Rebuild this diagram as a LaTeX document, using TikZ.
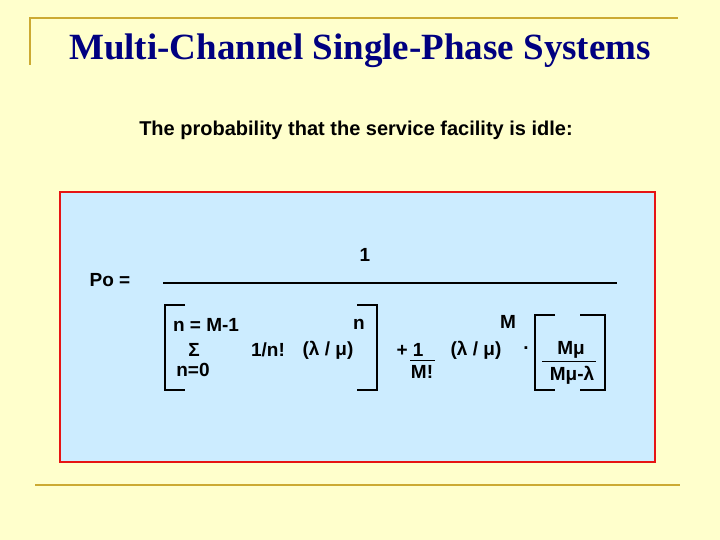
\documentclass[tikz,border=0pt]{standalone}
\usepackage{fontspec}
\setmainfont{Liberation Sans}
\newfontfamily\serifbf{Liberation Serif}
\definecolor{bgy}{RGB}{255,255,204}
\definecolor{gold}{RGB}{204,170,51}
\definecolor{navy}{RGB}{0,0,128}
\definecolor{boxbl}{RGB}{204,236,255}
\definecolor{redb}{RGB}{230,20,20}
\begin{document}
\begin{tikzpicture}[x=1pt,y=-1pt,
  t/.style={inner sep=0pt,font=\fontsize{19}{22}\selectfont\bfseries},
  br/.style={line width=1.6pt},
  fr/.style={line width=1pt}]
\fill[bgy] (0,0) rectangle (720,540);
\useasboundingbox (0,0) rectangle (720,540);
\draw[gold,line width=1.5pt] (30,65) -- (30,18) -- (678,18);
\draw[gold,line width=1.5pt] (35,485) -- (680,485);
\node (title)[text=navy,font=\fontsize{37}{40}\selectfont\serifbf\bfseries] at (360,51) {Multi-Channel Single-Phase Systems};
\node (sub)[font=\fontsize{20}{24}\selectfont\bfseries] at (356,130) {The probability that the service facility is idle:};
\draw[redb,line width=2pt,fill=boxbl] (60,192) rectangle (655,462);
\node (po)[t] at (110,280) {Po =};
\node (one)[t] at (365,255) {1};
\draw[line width=2.5pt] (163,283) -- (617,283);
\draw[br] (185,305) -- (165,305) -- (165,390) -- (185,390);
\draw[br] (357,305) -- (377,305) -- (377,390) -- (357,390);
\node (nm)[t] at (206,325) {n = M-1};
\node (sig)[t] at (194,350) {Σ};
\node (n0)[t] at (193,370) {n=0};
\node (inv)[t] at (268,350) {1/n!};
\node (lm1)[t] at (328,350) {(λ / μ)};
\node (ex1)[t] at (359,324) {n};
\node (p1)[t] at (410,350) {+ 1};
\draw[fr] (410,360) -- (435,360);
\node (mf)[t] at (422,372) {M!};
\node (lm2)[t] at (476,350) {(λ / μ)};
\node (ex2)[t] at (508,322) {M};
\node (dot)[t] at (526,348) {.};
\draw[br] (555,315) -- (535,315) -- (535,390) -- (555,390);
\draw[br] (580,315) -- (605,315) -- (605,390) -- (580,390);
\node (mu)[t] at (571,350) {Mμ};
\draw[fr] (542,361) -- (596,361);
\node (mul)[t] at (572,375) {Mμ-λ};
\end{tikzpicture}
\end{document}
